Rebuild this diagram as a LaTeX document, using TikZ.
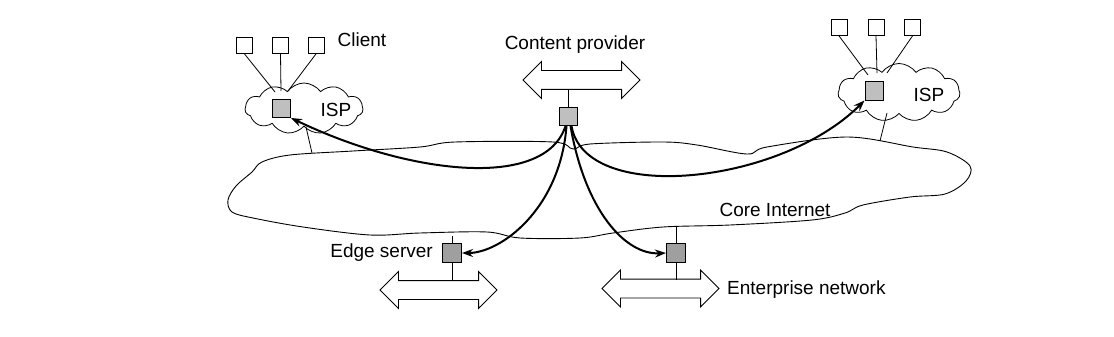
\documentclass[tikz,border=0pt]{standalone}
\usepackage{fontspec}
\setmainfont{Liberation Sans}
\usetikzlibrary{shapes.symbols,shapes.arrows,arrows.meta}
\begin{document}
\begin{tikzpicture}[x=1pt,y=-1pt,
  lbl/.style={font=\fontsize{19}{22}\selectfont, inner sep=0pt},
  client/.style={draw, fill=white, minimum size=16pt, inner sep=0pt, line width=0.8pt},
  router/.style={draw, fill=gray!50, minimum size=18pt, inner sep=0pt, line width=1pt},
  darkrouter/.style={draw, fill=gray!75, minimum size=19pt, inner sep=0pt, line width=1pt},
  ispcloud/.style={cloud, draw, cloud puffs=11, cloud puff arc=110, cloud ignores aspect, inner sep=0pt, line width=0.8pt},
  darrow/.style={double arrow, draw, line width=0.9pt, minimum height=117pt,
     inner xsep=0pt, inner ysep=9pt, double arrow head extend=9pt, double arrow tip angle=90},
  thin/.style={line width=0.8pt},
  flow/.style={line width=2pt, -{Stealth[length=11pt,width=8pt]}}
]
\useasboundingbox (0,0) rectangle (1114,337);

% core internet cloud
\draw[line width=0.9pt] plot[smooth cycle, tension=0.55] coordinates {
 (228,200) (236,186) (252,172) (262,162) (290,155) (353,151) (420,147) (455,142)
 (553,142) (573,149) (590,144) (663,142) (697,145) (747,154) (767,147) (847,137)
 (913,147) (947,152) (970,166) (966,181) (945,194) (910,197) (863,205) (845,213)
 (812,220) (730,225) (663,227) (613,233) (580,238) (520,238) (487,232) (420,233)
 (370,235) (303,227) (253,218) (232,212)};
\node[lbl] (core) at (775,210) {Core Internet};
\coordinate (coreL) at (312,153);
\coordinate (coreR) at (880,141);
\coordinate (coreE) at (452,236);
\coordinate (coreN) at (676,227);

% left ISP
\node[ispcloud, minimum width=118pt, minimum height=51pt] (isp1) at (304,108.5) {};
\node[lbl] (isp1l) at (336,110) {ISP};
\node[router] (r1) at (281.5,108.5) {};
\node[client] (c1) at (244.5,45.5) {};
\node[client] (c2) at (280.5,45.5) {};
\node[client] (c3) at (316,45.5) {};
\node[lbl] (cl) at (362,40) {Client};
\coordinate (t1) at (275,92);
\coordinate (t2) at (281,91);
\coordinate (t3) at (288,91);
\draw[thin] (c1.south) -- (t1);
\draw[thin] (c2.south) -- (t2);
\draw[thin] (c3.south) -- (t3);
\coordinate (b1) at (306,127);
\draw[thin] (b1) -- (coreL);

% right ISP
\node[ispcloud, minimum width=122pt, minimum height=58pt] (isp2) at (899,92.5) {};
\node[lbl] (isp2l) at (929,95) {ISP};
\node[router] (r2) at (874,91) {};
\node[client] (c4) at (839,27.5) {};
\node[client] (c5) at (876,27.5) {};
\node[client] (c6) at (912.5,27.5) {};
\coordinate (t4) at (868,75);
\coordinate (t5) at (877,73);
\coordinate (t6) at (887,73);
\draw[thin] (c4.south) -- (t4);
\draw[thin] (c5.south) -- (t5);
\draw[thin] (c6.south) -- (t6);
\coordinate (b2) at (887,113);
\draw[thin] (b2) -- (coreR);

% content provider
\node[lbl] (cpl) at (575,45) {Content provider};
\node[darrow] (cpa) at (581.5,80) {};
\node[router] (cp) at (568.5,116.5) {};
\draw[thin] (cp.north) -- ([yshift=-9pt]cp.north |- cpa.center);

% edge server
\node[darkrouter] (es) at (452,253) {};
\node[lbl, anchor=east] (esl) at (433,253) {Edge server};
\node[darrow] (esa) at (438.5,290) {};
\draw[thin] (coreE) -- (es.north);
\draw[thin] (es.south) -- ([yshift=9pt]es.south |- esa.center);

% enterprise
\node[darkrouter] (en) at (676,253) {};
\node[darrow] (ena) at (660.5,288.5) {};
\node[lbl, anchor=west] (enl) at (727,290) {Enterprise network};
\draw[thin] (coreN) -- (en.north);
\draw[thin] (en.south) -- ([yshift=9pt]en.south |- ena.center);

% flows
\draw[flow] ([xshift=-3pt]cp.south) .. controls (545,190) and (410,175) .. (r1.south east);
\draw[flow] ([xshift=3pt]cp.south) .. controls (585,205) and (780,185) .. (r2.south west);
\draw[flow] ([xshift=-2pt]cp.south) .. controls (560,210) and (500,253) .. (es.east);
\draw[flow] ([xshift=2pt]cp.south) .. controls (585,210) and (625,255) .. (en.west);
\end{tikzpicture}
\end{document}
